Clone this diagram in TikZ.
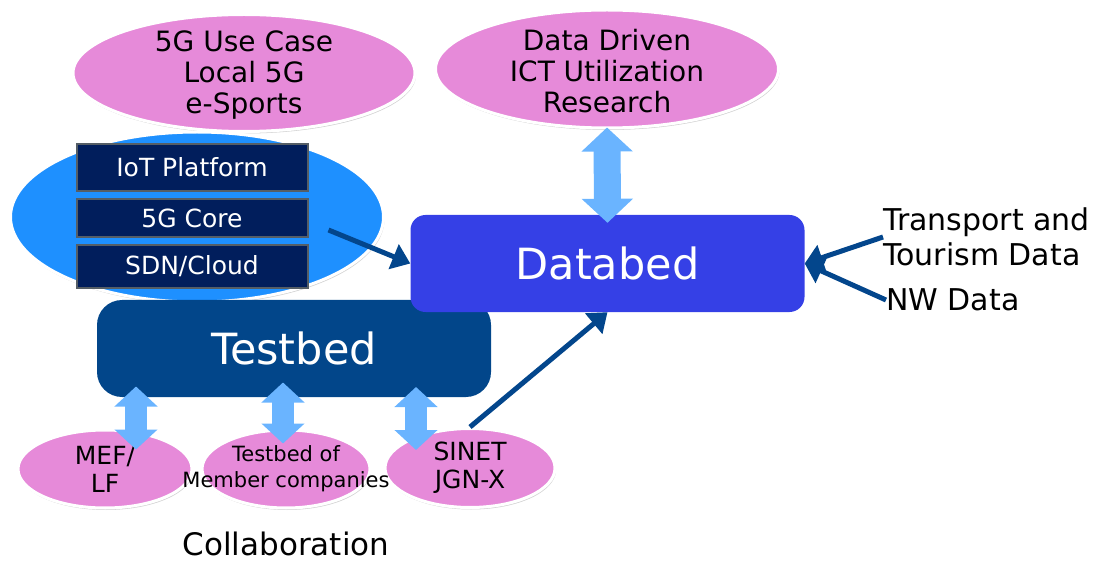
\documentclass[tikz,border=0pt]{standalone}
\usepackage{fontspec}
\setmainfont{DejaVu Sans}
\usetikzlibrary{arrows.meta,shapes.geometric,shadows}

\definecolor{orchid}{HTML}{E68AD9}
\definecolor{sky}{HTML}{1E90FF}
\definecolor{navy}{HTML}{011E5C}
\definecolor{boxedge}{HTML}{555E66}
\definecolor{testbedblue}{HTML}{02468A}
\definecolor{databedblue}{HTML}{3540E6}
\definecolor{pale}{HTML}{6AB4FF}
\definecolor{deep}{HTML}{03468C}

\begin{document}
\begin{tikzpicture}[x=1pt,y=-1pt,>={Triangle[length=18pt,width=26pt]},
                    feed/.style={->,line width=5pt,draw=deep},
                    duplex/.style={line width=22pt,draw=pale,
                      {Triangle[length=20pt,width=42pt]}-{Triangle[length=20pt,width=42pt]}}]
  \tikzstyle{blob}=[ellipse,draw=white,line width=3pt,fill=orchid,inner sep=0pt,
                    drop shadow={shadow xshift=1pt,shadow yshift=-2pt,opacity=.3,fill=black!60}]
  \tikzstyle{stackbox}=[draw=boxedge,line width=2pt,fill=navy,text=white,minimum width=231pt,
                        inner sep=0pt,font=\fontsize{25}{29}\selectfont]
  \tikzstyle{bed}=[fill=#1,text=white,minimum width=394pt,minimum height=97pt,
                   font=\fontsize{43}{50}\selectfont]
  \tikzstyle{caption}=[inner sep=0pt,align=left,font=\fontsize{30}{35}\selectfont]

  \useasboundingbox (0,0) rectangle (1100,561);

  \node[blob,minimum width=342pt,minimum height=117pt,
        label={[align=center,yshift=-2pt,font=\fontsize{28}{31}\selectfont]center:5G Use Case\\Local 5G\\e-Sports}]
       (usecase) at (244,73) {};
  \node[blob,minimum width=343pt,minimum height=118pt,
        label={[align=center,yshift=-2pt,font=\fontsize{28}{31}\selectfont]center:Data Driven\\ICT Utilization\\Research}]
       (research) at (607,69) {};
  \node[blob,fill=sky,minimum width=373pt,minimum height=170pt] (cloud) at (197,217) {};

  \node[stackbox,minimum height=47pt] (iot)  at (192,167.5) {IoT Platform};
  \node[stackbox,minimum height=38pt] (core) at (192,218)   {5G Core};
  \node[stackbox,minimum height=43pt] (sdn)  at (192,266.5) {SDN/Cloud};

  \node[bed=testbedblue,rounded corners=25pt] (testbed) at (294,348.5) {Testbed};
  \node[bed=databedblue,rounded corners=15pt] (databed) at (607.5,263.5) {Databed};

  \node[blob,minimum width=174pt,minimum height=78pt,
        label={[align=center,font=\fontsize{25}{28}\selectfont]center:MEF/\\LF}]
       (mef) at (105,469) {};
  \node[blob,minimum width=170pt,minimum height=79pt,
        label={[align=center,font=\fontsize{25}{28}\selectfont]center:SINET\\JGN-X}]
       (sinet) at (470,468) {};
  \node[blob,minimum width=168pt,minimum height=78pt,
        label={[align=center,font=\fontsize{21}{26}\selectfont]center:Testbed of\\Member companies}]
       (member) at (286,469) {};

  \node[inner sep=0pt,font=\fontsize{31}{36}\selectfont] (collab) at (286,544) {Collaboration};
  \node[caption,anchor=west] (transport) at (883,237) {Transport and\\Tourism Data};
  \node[caption,anchor=west] (nwdata) at (886,300) {NW Data};

  \draw[duplex,line width=27pt,{Triangle[length=24pt,width=50pt]}-{Triangle[length=24pt,width=50pt]}]
       ([yshift=2pt]research.south) -- ([yshift=-8pt]databed.north);
  \draw[duplex] ([shift={(31,21)}]mef.north) -- ++(0,-63);
  \draw[duplex] ([shift={(-3,15)}]member.north) -- ++(0,-61);
  \draw[duplex] ([shift={(-54,23)}]sinet.north) -- ++(0,-63);

  \path ([shift={(20,12)}]core.east) edge[feed] (databed.west)
        (sinet.north)     edge[feed] (databed.south)
        (transport.west)  edge[feed] (databed.east)
        (nwdata.west)     edge[feed] (databed.east);
\end{tikzpicture}
\end{document}
